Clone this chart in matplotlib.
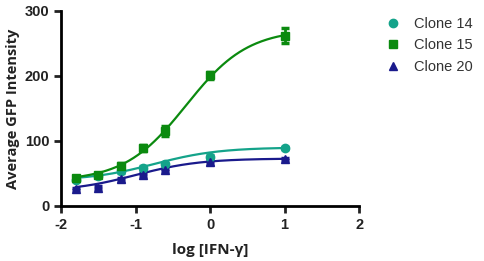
import numpy as np
import matplotlib.pyplot as plt
from matplotlib.lines import Line2D

plt.rcParams["axes.unicode_minus"] = False

# log [IFN-gamma] doses
log_dose = [-1.8, -1.5, -1.2, -0.9, -0.6, 0.0, 1.0]

# mean GFP intensity per clone
clone14 = [40, 46, 53, 59, 64, 76, 89]
clone15 = [43, 48, 62, 89, 115, 201, 262]
clone20 = [26, 28, 41, 48, 55, 67, 72]

# error (SD) per clone
clone14_err = [2, 2, 2, 3, 2, 2, 2]
clone15_err = [3, 3, 4, 4, 8, 5, 12]
clone20_err = [2, 2, 2, 2, 2, 2, 2]

# 4PL fit parameters: bottom, top, logEC50, hill
fit14 = (39, 90, -0.75, 1.0)
fit15 = (38, 272, -0.32, 1.05)
fit20 = (22, 73, -1.0, 1.0)

names = ["Clone 14", "Clone 15", "Clone 20"]
colors = ["#14a38a", "#0b8a0f", "#1a1a8c"]
markers = ["o", "s", "^"]


def four_pl(x, p):
    bottom, top, ec50, hill = p
    return bottom + (top - bottom) / (1 + 10 ** ((ec50 - x) * hill))


fig = plt.figure(figsize=(4.84, 2.61), dpi=100)
ax = fig.add_axes([0.126, 0.211, 0.616, 0.747])

xs = np.linspace(log_dose[0], log_dose[-1], 200)
series = [(clone14, clone14_err, fit14), (clone15, clone15_err, fit15), (clone20, clone20_err, fit20)]
for (vals, err, fit), c, m in zip(series, colors, markers):
    ax.plot(xs, four_pl(xs, fit), color=c, lw=1.6)
    ax.errorbar(log_dose, vals, yerr=err, fmt=m, color=c, ms=6,
                capsize=3, elinewidth=2, capthick=2.5)

ax.set_xlim(-2, 2)
ax.set_ylim(0, 300)
ax.set_xticks([-2, -1, 0, 1, 2])
ax.set_yticks([0, 100, 200, 300])
for s in ["top", "right"]:
    ax.spines[s].set_visible(False)
for s in ["left", "bottom"]:
    ax.spines[s].set_linewidth(2)
ax.tick_params(width=2, length=5, labelsize=10.5, colors="#222222")
for lab in ax.get_xticklabels() + ax.get_yticklabels():
    lab.set_fontfamily("Liberation Sans")
    lab.set_fontweight("bold")

ax.set_xlabel("log [IFN-γ]", fontsize=11, fontweight="bold", family="Open Sans", color="#222222", labelpad=8)
ax.set_ylabel("Average GFP Intensity", fontsize=10.5, fontweight="bold", family="Open Sans", color="#222222", labelpad=3)

handles = [Line2D([], [], ls="none", marker=m, color=c, ms=6) for c, m in zip(colors, markers)]
leg = fig.legend(handles, names, loc="upper left", bbox_to_anchor=(0.77, 0.985), frameon=False,
                 prop={"family": "Liberation Sans", "size": 10.5}, handletextpad=0.9,
                 labelspacing=0.5, handlelength=1.0)
for t in leg.get_texts():
    t.set_color("#333333")

fig.savefig("out.png", dpi=100)
